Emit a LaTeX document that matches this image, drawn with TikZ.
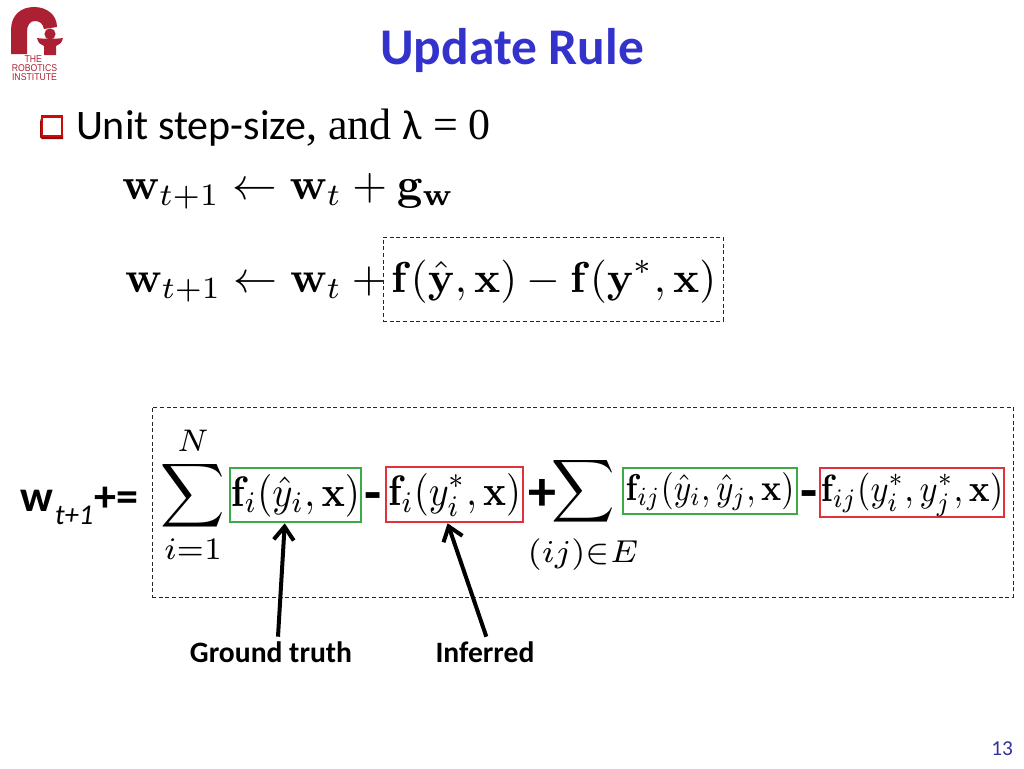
\documentclass[tikz,border=0pt]{standalone}
\usepackage[no-math]{fontspec}
\usepackage{amsmath}
\setmainfont{Carlito}
\newfontfamily\serifpart{Liberation Serif}
\newfontfamily\logofont{Liberation Sans}
\definecolor{titleblue}{RGB}{51,51,204}
\definecolor{numblue}{RGB}{51,51,153}
\definecolor{logored}{RGB}{172,32,52}
\definecolor{bulletred}{RGB}{204,10,10}
\definecolor{boxgreen}{RGB}{60,170,70}
\definecolor{boxred}{RGB}{225,50,60}
\usetikzlibrary{arrows.meta}
\tikzset{
  x=0.75pt,y=-0.75pt,
  plain/.style={inner sep=0pt,outer sep=0pt},
  dashbox/.style={draw=black!85,line width=0.75pt,dash pattern=on 3pt off 2pt,plain},
  termbox/.style n args={3}{draw=#1,line width=0.9pt,plain,minimum width=#2*0.75pt,minimum height=#3*0.75pt},
  callout/.style={line width=3pt,-{Straight Barb[length=10pt,width=15pt,line width=3pt]},shorten >=1pt},
  arrowlabel/.style={plain,font=\fontsize{22.2}{26}\selectfont\bfseries},
  opsign/.style={plain,anchor=base,font=\fontsize{42}{42}\selectfont\bfseries},
  logotext/.style={plain,text=logored,xscale=0.88,font=\logofont\fontsize{7.4}{7}\selectfont},
}
\newcommand{\eqscale}[2]{\scalebox{#1}{$\displaystyle #2$}}
% x scale, y scale, lowering of the baseline below the box centre, formula
\newcommand{\termtext}[4]{\raisebox{-#3}[0pt][0pt]{\scalebox{#1}[#2]{$\displaystyle #4$}}}
\begin{document}
\begin{tikzpicture}
\useasboundingbox (0,0) rectangle (1024,768);
% logo
\fill[logored] (11,54) -- (11,30) .. controls (11,15) and (21,7) .. (34,7)
  .. controls (47,7) and (57,15) .. (57,27) -- (44,29)
  .. controls (43,24) and (40,21) .. (35,21) .. controls (30,21) and (27,25) .. (27,32) -- (27,54) -- cycle;
\fill[logored] (50,34) circle (5.6);
\fill[logored] (37,38) .. controls (42,39) and (58,39) .. (63,38)
  .. controls (62,43) and (59,45) .. (56,46) -- (56,55) -- (44,55) -- (44,46)
  .. controls (41,45) and (38,43) .. (37,38) -- cycle;
\node[logotext,anchor=base east] (logothe) at (42,62) {THE};
\node[logotext,anchor=base] (logorob) at (34.5,71) {ROBOTICS};
\node[logotext,anchor=base] (logoins) at (34.5,80) {INSTITUTE};
% title
\node[plain,anchor=base,text=titleblue,font=\fontsize{38.6}{44}\selectfont\bfseries] (title) at (512,64) {Update Rule};
% bullet
\fill[bulletred!70!black] (40,118) -- (40,137) -- (42,139) -- (63,139) -- (63,134) -- (44,134) -- cycle;
\node[plain,draw=bulletred,line width=2pt,minimum width=15pt,minimum height=14.5pt,anchor=north west,fill=white] (bullet) at (42,116.5) {};
\node[plain,anchor=base west,font=\fontsize{31.5}{36}\selectfont] (bullettext) at (76,139)
  {Unit step-size{\serifpart\fontsize{33}{36}\selectfont, and }λ{\serifpart\fontsize{33}{36}\selectfont\ = 0}};
% equations
\node[plain,anchor=base west] (eqone) at (122,199) {\eqscale{3.35}{\mathbf{w}_{t+1}\leftarrow\mathbf{w}_t+\mathbf{g}_{\mathbf{w}}}};
\node[plain,anchor=base west] (eqtwo) at (125,292) {\eqscale{3.3}{\mathbf{w}_{t+1}\leftarrow\mathbf{w}_t+{}}};
\node[dashbox,minimum width=255pt,minimum height=63pt] (dashone) at (553,279) {};
\node[plain,anchor=base west] (eqtwob) at (391,292) {\eqscale{3.25}{\mathbf{f}(\hat{\mathbf{y}},\mathbf{x})-\mathbf{f}(\mathbf{y}^*,\mathbf{x})}};
% big box
\node[dashbox,minimum width=645.75pt,minimum height=142.5pt] (dashtwo) at (582.5,502) {};
\node[plain,anchor=base west,font=\fontsize{33}{36}\selectfont\bfseries] (lhs) at (21,511)
  {w\kern1pt\raisebox{-0.3em}{\fontsize{21.5}{21}\mdseries\itshape\selectfont t+1}\kern1pt+=};
\node[plain] (sumone) at (193,495) {\eqscale{3.35}{\sum_{i=1}^{N}}};
\node[termbox={boxgreen}{131}{54}] (gfi) at (295.5,495) {\termtext{2.9}{3.2}{8.25pt}{\mathbf{f}_i(\hat{y}_i,\mathbf{x})}};
\node[opsign] (minusone) at (373,511) {-};
\node[termbox={boxred}{137}{55}] (rfi) at (454.5,494.5) {\termtext{2.85}{3.2}{8.6pt}{\mathbf{f}_i(y_i^*,\mathbf{x})}};
\node[opsign] (plusone) at (542,510) {+};
\node[plain] (sumtwo) at (583,491.5) {\eqscale{3.3}{\sum}};
\node[plain,anchor=base] (sumsub) at (583,562) {\scalebox{3.4}{$\scriptstyle (ij)\in E$}};
\node[termbox={boxgreen}{174}{46}] (gfij) at (710,491) {\termtext{2.5}{2.8}{6.75pt}{\mathbf{f}_{ij}(\hat{y}_i,\hat{y}_j,\mathbf{x})}};
\node[opsign] (minustwo) at (809,509) {-};
\node[termbox={boxred}{184}{49}] (rfij) at (912,492.5) {\termtext{2.58}{2.85}{7.1pt}{\mathbf{f}_{ij}(y_i^*,y_j^*,\mathbf{x})}};
% arrows
\node[arrowlabel] (gt) at (271,652.5) {Ground truth};
\node[arrowlabel] (inf) at (485,652.5) {Inferred};
\draw[callout] ([xshift=5.25pt,yshift=4pt]gt.north) -- ([xshift=-8pt]gfi.south);
\draw[callout] ([xshift=1pt,yshift=4pt]inf.north) -- ([xshift=-5.5pt]rfi.south);
% page number
\node[plain,anchor=base east,text=numblue,font=\fontsize{16}{18}\selectfont] (page) at (1013,755) {13};
\end{tikzpicture}
\end{document}
